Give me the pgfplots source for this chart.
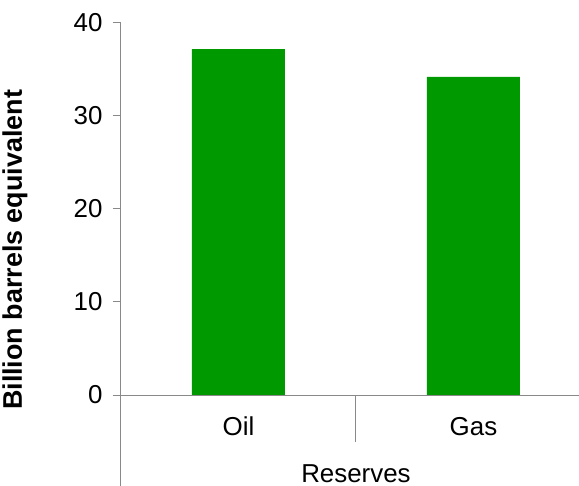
\documentclass[border=0pt]{standalone}
\usepackage{fontspec}
\setmainfont{Liberation Sans}
\usepackage{pgfplots}
\pgfplotsset{compat=1.18}
\definecolor{barGreen}{RGB}{0,153,0}
\definecolor{axisGray}{RGB}{137,137,137}

\begin{document}
\begin{tikzpicture}
\useasboundingbox (-121bp,-91bp) rectangle (458bp,395bp);
\begin{axis}[
  at={(0,0)}, anchor=south west,
  scale only axis,
  width=458bp, height=372bp,
  xmin=-0.5, xmax=1.449,
  ymin=0, ymax=40,
  axis x line=none,
  axis y line=left,
  axis line style={-, draw=axisGray, line width=1bp},
  ytick={0,10,20,30,40},
  tick style={draw=axisGray, line width=1bp},
  tick align=outside,
  major tick length=8bp,
  yticklabel style={font=\fontsize{26}{30}\selectfont, anchor=east, xshift=-7bp},
  /pgf/number format/assume math mode=true,
  clip=false,
]
% the bars
\addplot[ybar, bar width=93bp, fill=barGreen, draw=none]
  coordinates {(0,37.2) (1,34.2)};

% category axis line, extended slightly past the value axis
\draw[axisGray, line width=1bp] ([xshift=-8bp]axis cs:-0.5,0) -- (axis cs:1.449,0);
% value axis continued below zero through the category rows
\draw[axisGray, line width=1bp] (axis cs:-0.5,0) -- ([yshift=-91bp]axis cs:-0.5,0);
% divider between the two categories
\draw[axisGray, line width=1bp] (axis cs:0.5,0) -- ([yshift=-47bp]axis cs:0.5,0);

% category names and group name
\node[anchor=base, font=\fontsize{26}{30}\selectfont] at ([yshift=-40bp]axis cs:0,0) {Oil};
\node[anchor=base, font=\fontsize{26}{30}\selectfont] at ([yshift=-40bp]axis cs:1,0) {Gas};
\node[anchor=base, font=\fontsize{26}{30}\selectfont] at ([yshift=-87bp]axis cs:0.5,0) {Reserves};

% value axis title
\node[rotate=90, anchor=base, font=\fontsize{27}{31}\selectfont\bfseries]
  at ([xshift=-99bp]axis cs:-0.5,15.6) {Billion barrels equivalent};
\end{axis}
\end{tikzpicture}
\end{document}
